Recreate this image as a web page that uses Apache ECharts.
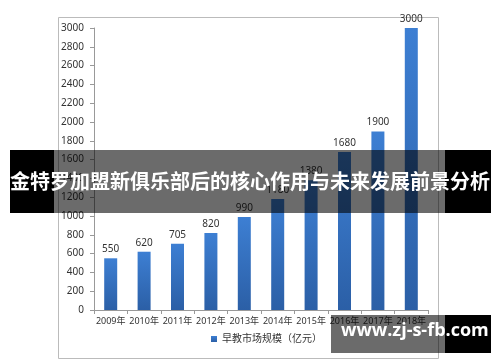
<!DOCTYPE html>
<html>
<head>
<meta charset="utf-8">
<script src="https://cdn.jsdelivr.net/npm/echarts@6/dist/echarts.min.js"></script>
<style>html,body{margin:0;padding:0;background:#fff;}#c{width:500px;height:362px;}</style>
</head>
<body>
<div id="c"></div>
<script>
const categories = ['2009年','2010年','2011年','2012年','2013年','2014年','2015年','2016年','2017年','2018年'];
const marketSize = [550, 620, 705, 820, 990, 1180, 1380, 1680, 1900, 3000];
const seriesName = '早教市场规模（亿元）';
const yTicks = {min: 0, max: 3000, interval: 200};
const bannerTitle = '金特罗加盟新俱乐部后的核心作用与未来发展前景分析';
const watermark = 'www.zj-s-fb.com';

const chart = echarts.init(document.getElementById('c'), null, {renderer: 'canvas'});
const font = '"Noto Sans", "Noto Sans CJK SC", sans-serif';
chart.setOption({
  animation: false,
  backgroundColor: '#fff',
  grid: {left: 94, right: 72, top: 28, bottom: 52},
  legend: {
    bottom: 13, left: 206,
    icon: 'rect', itemWidth: 6, itemHeight: 6, itemGap: 4,
    textStyle: {fontSize: 10, color: '#333', fontFamily: font},
    data: [seriesName]
  },
  xAxis: {
    type: 'category',
    data: categories,
    axisLine: {lineStyle: {color: '#999', width: 1}},
    axisTick: {show: true, inside: false, length: 4, lineStyle: {color: '#999'}},
    axisLabel: {fontSize: 9, color: '#333', margin: 7, fontFamily: font, interval: 0}
  },
  yAxis: {
    type: 'value',
    min: yTicks.min, max: yTicks.max, interval: yTicks.interval,
    axisLine: {show: true, lineStyle: {color: '#999', width: 1}},
    axisTick: {show: true, length: 4, lineStyle: {color: '#999'}},
    splitLine: {show: false},
    axisLabel: {fontSize: 10, color: '#333', margin: 10, fontFamily: font, formatter: function (v) { return String(v); }}
  },
  series: [{
    name: seriesName,
    type: 'bar',
    data: marketSize,
    barWidth: 13,
    itemStyle: {
      color: new echarts.graphic.LinearGradient(0, 0, 0, 1, [
        {offset: 0, color: '#3d7fd3'},
        {offset: 1, color: '#2b5fa6'}
      ])
    },
    label: {show: true, position: 'top', fontSize: 10, color: '#333', distance: 4, fontFamily: font}
  }],
  graphic: [
    {type: 'rect', z: 0, zlevel: 0, silent: true,
     shape: {x: 58.5, y: 17.5, width: 380, height: 341},
     style: {fill: 'none', stroke: '#bbb', lineWidth: 1}},
    {type: 'rect', z: 100, silent: true, shape: {x: 10, y: 150, width: 44, height: 63}, style: {fill: '#000'}},
    {type: 'rect', z: 100, silent: true, shape: {x: 445, y: 150, width: 46, height: 63}, style: {fill: '#000'}},
    {type: 'rect', z: 100, silent: true, shape: {x: 54, y: 150, width: 391, height: 63}, style: {fill: 'rgba(0,0,0,0.58)'}},
    {type: 'text', z: 101, silent: true, left: 'center', top: 171,
     style: {text: bannerTitle, fill: '#fff', font: 'bold 20px "Noto Sans CJK SC", sans-serif'}},
    {type: 'rect', z: 100, silent: true, shape: {x: 445, y: 315, width: 46, height: 38}, style: {fill: '#000'}},
    {type: 'rect', z: 100, silent: true, shape: {x: 331, y: 315, width: 114, height: 38}, style: {fill: 'rgba(0,0,0,0.58)'}},
    {type: 'text', z: 101, silent: true, left: 341, top: 322,
     style: {text: watermark, fill: '#fff', font: 'bold 18px "Open Sans", "Noto Sans", sans-serif'}}
  ]
});
</script>
</body>
</html>
